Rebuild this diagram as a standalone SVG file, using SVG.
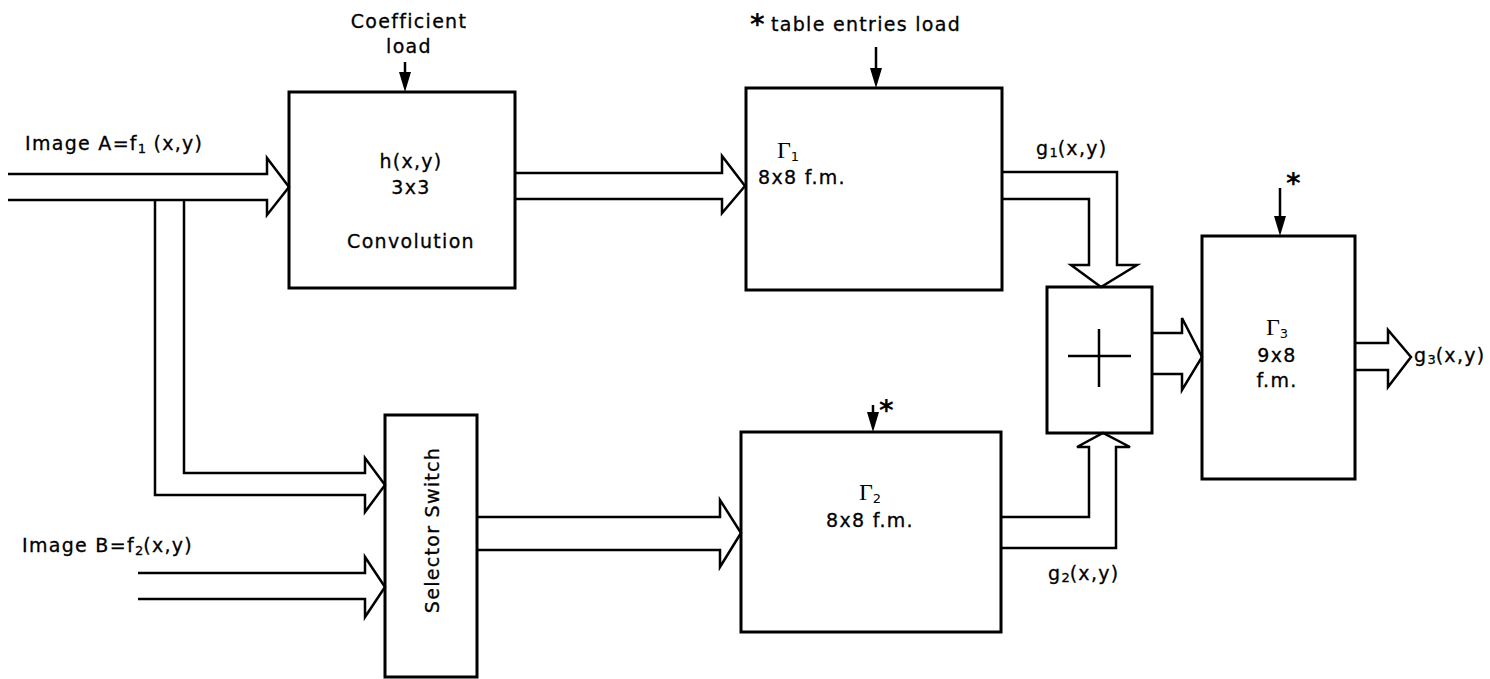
<svg xmlns="http://www.w3.org/2000/svg" width="1490" height="679" viewBox="0 0 1490 679">
<style>
.box{fill:none;stroke:#000;stroke-width:3}
.bus{fill:none;stroke:#000;stroke-width:2.5;stroke-linejoin:miter}
.ctl{stroke:#000;stroke-width:2.5}
.t{font-family:"DejaVu Sans","Liberation Sans",sans-serif;font-size:19px;letter-spacing:1.3px;fill:#000;stroke:#000;stroke-width:0.3}
.g{font-family:"Liberation Serif","Times New Roman",serif;font-size:24px;fill:#000}
.s{font-family:"DejaVu Sans","Liberation Sans",sans-serif;font-size:13px;letter-spacing:0}
.ast{font-family:"DejaVu Sans","Liberation Sans",sans-serif;font-weight:bold;font-size:28px;fill:#000}
</style>
<rect width="1490" height="679" fill="#fff"/>

<g id="connectors">
<path class="bus" d="M8,174 H267 V158 L289,187 L267,215 V200 H8"/>
<path class="bus" d="M155,200 V495 H365 V512 L385,485 L365,458 V473 H184 V200"/>
<path class="bus" d="M138,573 H365 V557 L385,587 L365,617 V599 H138"/>
<path class="bus" d="M515,173 H722 V156 L745,186 L722,213 V199 H515"/>
<path class="bus" d="M477,517 H720 V500 L741,533 L720,567 V550 H477"/>
<path class="bus" d="M1002,172 H1117 V265 H1137 L1101,287 L1071,265 H1089 V199 H1002"/>
<path class="bus" d="M1001,517 H1089 V447 H1077 L1103,433 L1130,447 H1116 V548 H1001"/>
<path class="bus" d="M1152,333 H1182 V318 L1202,357 L1182,390 V374 H1152"/>
<path class="bus" d="M1355,343 H1388 V330 L1411,357 L1388,387 V370 H1355"/>
<line class="ctl" x1="405" y1="62" x2="405" y2="74"/>
<path d="M399,72 L411,72 L405,92 Z"/>
<line class="ctl" x1="876" y1="47" x2="876" y2="70"/>
<path d="M870,68 L882,68 L876,88 Z"/>
<line class="ctl" x1="873" y1="405" x2="873" y2="414"/>
<path d="M867,412 L879,412 L873,432 Z"/>
<line class="ctl" x1="1280" y1="188" x2="1280" y2="218"/>
<path d="M1274,216 L1286,216 L1280,236 Z"/>
</g>

<g id="labels">
<text class="t" x="25" y="150">Image A=f<tspan class="s" dy="3">1</tspan><tspan dy="-3"> (x,y)</tspan></text>
<text class="t" x="22" y="552">Image B=f<tspan class="s" dy="3">2</tspan><tspan dy="-3">(x,y)</tspan></text>
<text class="t" x="409" y="28" text-anchor="middle">Coefficient</text>
<text class="t" x="409" y="53" text-anchor="middle">load</text>
<text class="ast" x="750" y="34">*</text>
<text class="t" x="771" y="31">table entries load</text>
<text class="ast" x="879" y="420">*</text>
<text class="ast" x="1286" y="193">*</text>
<text class="t" x="1036" y="155">g<tspan class="s" dy="2">1</tspan><tspan dy="-2">(x,y)</tspan></text>
<text class="t" x="1048" y="580">g<tspan class="s" dy="2">2</tspan><tspan dy="-2">(x,y)</tspan></text>
<text class="t" x="1414" y="362">g<tspan class="s" dy="2">3</tspan><tspan dy="-2">(x,y)</tspan></text>
</g>

<g id="conv">
<rect class="box" x="289" y="92" width="226" height="196"/>
<text class="t" x="411" y="168" text-anchor="middle">h(x,y)</text>
<text class="t" x="411" y="194" text-anchor="middle">3x3</text>
<text class="t" x="411" y="248" text-anchor="middle">Convolution</text>
</g>

<g id="gamma1">
<rect class="box" x="746" y="88" width="256" height="202"/>
<text class="g" x="788" y="158" text-anchor="middle">Γ<tspan class="s" dy="3">1</tspan></text>
<text class="t" x="802" y="184" text-anchor="middle">8x8 f.m.</text>
</g>

<g id="selector">
<rect class="box" x="385" y="415" width="92" height="262"/>
<text class="t" x="0" y="0" text-anchor="middle" transform="translate(439,530) rotate(-90)">Selector Switch</text>
</g>

<g id="gamma2">
<rect class="box" x="741" y="432" width="260" height="200"/>
<text class="g" x="870" y="500" text-anchor="middle">Γ<tspan class="s" dy="3">2</tspan></text>
<text class="t" x="870" y="527" text-anchor="middle">8x8 f.m.</text>
</g>

<g id="adder">
<rect class="box" x="1047" y="287" width="105" height="146"/>
<line class="ctl" x1="1068" y1="356" x2="1131" y2="356"/>
<line class="ctl" x1="1099" y1="329" x2="1099" y2="387"/>
</g>

<g id="gamma3">
<rect class="box" x="1202" y="236" width="153" height="243"/>
<text class="g" x="1277" y="335" text-anchor="middle">Γ<tspan class="s" dy="3">3</tspan></text>
<text class="t" x="1277" y="362" text-anchor="middle">9x8</text>
<text class="t" x="1277" y="387" text-anchor="middle">f.m.</text>
</g>
</svg>
